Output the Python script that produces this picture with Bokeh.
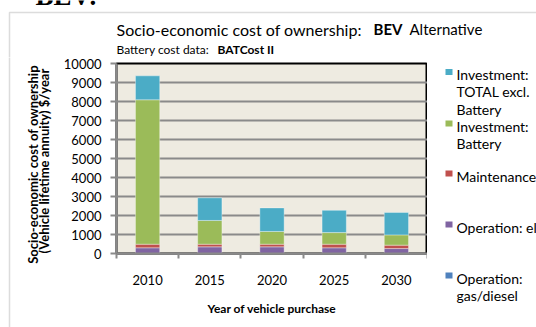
import math
from bokeh.plotting import figure
from bokeh.layouts import column, row
from bokeh.models import Range1d, FixedTicker, Label, BoxAnnotation, ColumnDataSource
from bokeh.embed import file_html
from bokeh.resources import INLINE

# ---- data ----
years = ["2010", "2015", "2020", "2025", "2030"]
op_gas = [0, 0, 0, 0, 0]
op_el = [300, 350, 350, 300, 260]
maintenance = [190, 140, 140, 190, 180]
inv_battery = [7600, 1250, 670, 610, 540]
inv_total_excl = [1260, 1190, 1240, 1170, 1180]

series_keys = ["op_gas", "op_el", "maintenance", "inv_battery", "inv_total_excl"]
series_colors = ["#4F81BD", "#8064A2", "#C0504D", "#9BBB59", "#4BACC6"]
legend_labels = [
    ["Investment:", "TOTAL excl.", "Battery"],
    ["Investment:", "Battery"],
    ["Maintenance"],
    ["Operation: el"],
    ["Operation:", "gas/diesel"],
]
legend_colors = ["#4BACC6", "#9BBB59", "#C0504D", "#8064A2", "#4F81BD"]
y_ticks = list(range(0, 10001, 1000))

FONT = "Lato"
BORDER = "#8c8c8c"
W, H = 536, 327
TOP_H = 57           # title strip height
LEFT_W = 56          # left strip (outer border + y title)
BOT_Y = 292          # where the bottom strip (x title) begins
FRAME_L, FRAME_R, FRAME_T, FRAME_B = 116, 427, 63, 253


def text_fig(x0, x1, y0, y1):
    f = figure(width=x1 - x0, height=y1 - y0, output_backend="svg", toolbar_location=None,
               x_range=Range1d(x0, x1), y_range=Range1d(y1, y0),
               x_axis_type=None, y_axis_type=None, frame_align=False,
               min_border=0, min_border_left=0, min_border_right=0,
               min_border_top=0, min_border_bottom=0)
    f.outline_line_color = None
    f.background_fill_color = "white"
    f.border_fill_color = "white"
    return f


def lab(f, x, y, t, size, bold=False, font=FONT, **kw):
    f.add_layout(Label(x=x, y=y, text=t, text_font=font, text_font_size=size,
                       text_font_style="bold" if bold else "normal", text_color="black",
                       text_baseline="middle", **kw))


# ---- title strip ----
top = text_fig(0, W, 0, TOP_H)
top.add_layout(BoxAnnotation(left=9, right=W + 50, top=12, bottom=TOP_H + 50,
                             fill_alpha=0, line_color=BORDER, line_width=1.5))
lab(top, 35, -5, "BEV:", "27px", bold=True, font="Liberation Serif")
lab(top, 116, 28.5, "Socio-economic cost of ownership:", "16px")
lab(top, 373, 28.5, "BEV", "15px", bold=True)
lab(top, 409, 28.5, "Alternative", "15px")
lab(top, 116, 49.3, "Battery cost data:", "12px")
lab(top, 217, 49.3, "BATCost II", "12px", bold=True)

# ---- left strip: outer border + y-axis title ----
left = text_fig(0, LEFT_W, TOP_H, H)
left.add_layout(BoxAnnotation(left=9, right=W + 50, top=TOP_H - 50, bottom=H + 50,
                              fill_alpha=0, line_color=BORDER, line_width=1.5))
lab(left, 32, 164, "Socio-economic cost of ownership", "13px", bold=True,
    angle=math.pi / 2, text_align="center")
lab(left, 43, 159, "(Vehicle lifetime annuity)  $/year", "13px", bold=True,
    angle=math.pi / 2, text_align="center")

# ---- main chart ----
xpos = [i + 0.5 for i in range(len(years))]
src = ColumnDataSource(dict(x=xpos, op_gas=op_gas, op_el=op_el, maintenance=maintenance,
                            inv_battery=inv_battery, inv_total_excl=inv_total_excl))

p = figure(width=FRAME_R - LEFT_W, height=BOT_Y - TOP_H, output_backend="svg",
           toolbar_location=None, frame_align=False,
           x_range=Range1d(0, len(years)), y_range=Range1d(0, 10000),
           min_border_left=FRAME_L - LEFT_W, min_border_right=0,
           min_border_top=FRAME_T - TOP_H, min_border_bottom=BOT_Y - FRAME_B)
p.background_fill_color = "#EEEBE1"
p.border_fill_color = "white"
p.outline_line_color = "black"
p.outline_line_width = 2

p.vbar_stack(series_keys, x="x", width=0.39, color=series_colors, source=src,
             line_color="white", line_alpha=0.35, line_width=1)

p.xgrid.grid_line_color = None
p.ygrid.ticker = FixedTicker(ticks=y_ticks)
p.ygrid.grid_line_color = "#8a8a8a"
p.ygrid.grid_line_width = 2

ya = p.yaxis[0]
ya.ticker = FixedTicker(ticks=y_ticks)
ya.axis_line_color = "#8a8a8a"
ya.axis_line_width = 2
ya.major_tick_line_color = "#8a8a8a"
ya.major_tick_line_width = 2
ya.major_tick_out = 6
ya.major_tick_in = 0
ya.minor_tick_line_color = None
ya.major_label_text_font = FONT
ya.major_label_text_font_size = "13px"
ya.major_label_text_color = "black"
ya.major_label_standoff = 9

xa = p.xaxis[0]
xa.ticker = FixedTicker(ticks=xpos, minor_ticks=list(range(len(years) + 1)))
xa.major_label_overrides = {x: y for x, y in zip(xpos, years)}
xa.axis_line_color = "#8a8a8a"
xa.axis_line_width = 2
xa.major_tick_line_color = None
xa.major_tick_out = 0
xa.major_tick_in = 0
xa.minor_tick_line_color = "#8a8a8a"
xa.minor_tick_line_width = 2
xa.minor_tick_out = 5
xa.minor_tick_in = 0
xa.major_label_text_font = FONT
xa.major_label_text_font_size = "13px"
xa.major_label_text_color = "black"
xa.major_label_standoff = 16

# ---- bottom strip: x-axis title ----
bottom = text_fig(LEFT_W, FRAME_R, BOT_Y, H)
lab(bottom, (FRAME_L + FRAME_R) / 2, 308, "Year of vehicle purchase", "12px", bold=True,
    text_align="center")

# ---- legend strip ----
leg = text_fig(FRAME_R, W, TOP_H, H)
item_y = [71.5, 123, 173, 224, 275]
for lines, col, cy in zip(legend_labels, legend_colors, item_y):
    leg.add_layout(BoxAnnotation(left=445, right=452, top=cy - 3, bottom=cy + 3,
                                 fill_color=col, fill_alpha=1, line_color=None))
    for k, t in enumerate(lines):
        lab(leg, 456, cy + 2.5 + k * 17.3, t, "14px")

layout = column(top, row(left, column(p, bottom, spacing=0), leg, spacing=0), spacing=0)
open("out.html", "w").write(file_html(layout, INLINE))
